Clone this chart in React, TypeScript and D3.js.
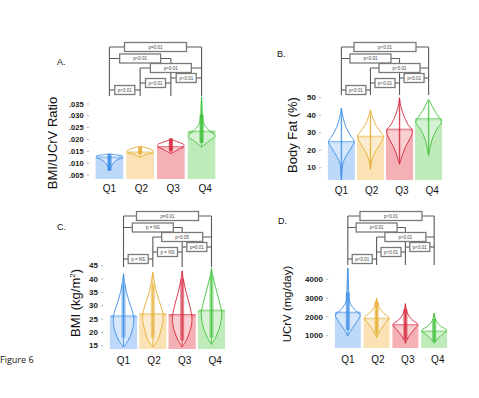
import React from 'react';
import * as d3 from 'd3';

const groups = ['Q1', 'Q2', 'Q3', 'Q4'];
const barColors = ['#bdd8f9', '#fae2b5', '#f5b0b5', '#bfeab9'];
const lineColors = ['#3a8ee6', '#e6ad2e', '#d6263a', '#3fc23a'];

// pairwise comparisons, top bracket first
const pairs: [number, number][] = [[0, 3], [0, 2], [1, 3], [2, 3], [1, 2], [0, 1]];
const pairLevels = [0, 1.15, 2.1, 3.1, 3.6, 4.3];

// A. BMI/UCrV ratio
const ratioMeans = [0.0126, 0.0147, 0.017, 0.0235];
const ratioTicks = [0.005, 0.01, 0.015, 0.02, 0.025, 0.03, 0.035];
const ratioViolins = [
  [[0.0068, 0], [0.009, 0.15], [0.011, 0.45], [0.0125, 0.9], [0.013, 0.95], [0.0135, 0.5], [0.0139, 0]],
  [[0.0124, 0], [0.0135, 0.35], [0.0145, 0.85], [0.0152, 0.95], [0.016, 0.7], [0.0167, 0.3], [0.0172, 0]],
  [[0.014, 0], [0.0155, 0.45], [0.017, 0.9], [0.0178, 0.95], [0.0188, 0.6], [0.0195, 0.25], [0.02, 0]],
  [[0.0168, 0], [0.019, 0.45], [0.0215, 0.98], [0.0235, 0.6], [0.026, 0.22], [0.029, 0.08], [0.033, 0.05], [0.038, 0]],
];
const ratioDots = [[0.0068, 0.0138], [0.0138, 0.0168], [0.015, 0.0205], [0.0185, 0.0305]];
const ratioP = ['p=0.01', 'p<0.01', 'p<0.01', 'p<0.01', 'p<0.01', 'p<0.01'];

// B. Body fat (%)
const fatMeans = [25, 28, 32, 38];
const fatTicks = [10, 20, 30, 40, 50];
const fatViolins = [
  [[3, 0], [7, 0.04], [12, 0.1], [16, 0.3], [21, 0.7], [25, 0.95], [28, 0.7], [33, 0.35], [38, 0.15], [44, 0]],
  [[9, 0], [14, 0.1], [19, 0.35], [24, 0.75], [28, 0.95], [31, 0.7], [35, 0.35], [39, 0.15], [43, 0]],
  [[12, 0], [17, 0.2], [22, 0.45], [27, 0.8], [31, 0.95], [35, 0.6], [40, 0.3], [45, 0.1], [50, 0]],
  [[17, 0], [22, 0.12], [27, 0.3], [32, 0.6], [36, 0.95], [39, 0.75], [43, 0.4], [47, 0.15], [49, 0]],
];
const fatDots = [[8, 40], [12, 40], [15, 45], [18, 45]];
const fatP = ['p<0.01', 'p<0.01', 'p<0.01', 'p<0.01', 'p<0.01', 'p<0.01'];

// C. BMI (kg/m2)
const bmiMeans = [26.2, 27, 26.7, 28.3];
const bmiTicks = [15, 20, 25, 30, 35, 40, 45];
const bmiViolins = [
  [[14.5, 0], [17, 0.35], [20, 0.6], [24, 0.75], [27, 0.7], [31, 0.45], [35, 0.22], [39, 0.08], [42, 0]],
  [[14.5, 0], [17, 0.35], [21, 0.6], [25, 0.75], [28, 0.7], [32, 0.45], [36, 0.22], [40, 0.08], [42.5, 0]],
  [[14.5, 0], [17, 0.3], [21, 0.6], [25, 0.72], [29, 0.6], [33, 0.4], [37, 0.2], [40, 0.08], [43, 0]],
  [[15.5, 0], [18, 0.3], [22, 0.6], [27, 0.75], [31, 0.6], [35, 0.4], [39, 0.2], [42, 0.06], [44, 0]],
];
const bmiDots = [[18, 38], [18, 38], [17, 40], [18, 41]];
const bmiP = ['p=0.01', 'p = NS', 'p<0.05', 'p=0.01', 'p = NS', 'p = NS'];

// D. UCrV (mg/day)
const ucrvMeans = [2250, 1925, 1590, 1250];
const ucrvTicks = [1000, 2000, 3000, 4000];
const ucrvViolins = [
  [[1000, 0], [1400, 0.35], [1800, 0.75], [2100, 0.95], [2400, 0.5], [2800, 0.15], [3400, 0.07], [4000, 0.04], [4600, 0]],
  [[900, 0], [1300, 0.3], [1700, 0.7], [1950, 0.95], [2200, 0.55], [2500, 0.2], [3000, 0]],
  [[600, 0], [1000, 0.3], [1350, 0.7], [1600, 0.95], [1850, 0.5], [2200, 0.15], [2700, 0]],
  [[600, 0], [900, 0.35], [1150, 0.8], [1300, 0.95], [1500, 0.5], [1800, 0.15], [2200, 0]],
];
const ucrvDots = [[1300, 3300], [1100, 2800], [800, 2400], [700, 1900]];
const ucrvP = ['p<0.01', 'p<0.01', 'p<0.01', 'p<0.01', 'p<0.01', 'p<0.01'];

const sans = 'Liberation Sans, Arial, sans-serif';

type PanelProps = {
  letter: string; letterX: number; letterY: number;
  title: React.ReactNode; titleX: number; titleY: number; titleSize: number;
  xRange: [number, number]; padIn: number; padOut: number;
  yDomain: [number, number]; yRange: [number, number]; base: number;
  ticks: number[]; fmt: (v: number) => string; tickSize: number;
  means: number[]; violins: number[][][]; dots: number[][]; dotW: number; dotOp: number;
  pLabels: string[]; bracketTop: number; bracketBase: number; qY: number;
};

const Panel: React.FC<PanelProps> = (p) => {
  const x = d3.scaleBand<string>().domain(groups).range(p.xRange)
    .paddingInner(p.padIn).paddingOuter(p.padOut);
  const y = d3.scaleLinear().domain(p.yDomain).range(p.yRange);
  const bw = x.bandwidth();
  const cx = (i: number) => (x(groups[i]) as number) + bw / 2;
  const left = x(groups[0]) as number;

  const levelY = (l: number) => p.bracketTop + l * 10;

  return (
    <g>
      <text x={p.letterX} y={p.letterY} fontSize={9} fontFamily={sans} fill="#111">{p.letter}</text>
      <text transform={`translate(${p.titleX},${p.titleY}) rotate(-90)`} textAnchor="middle"
        fontSize={p.titleSize} fontFamily={sans} fill="#111">{p.title}</text>

      {/* y ticks */}
      {p.ticks.map((t) => (
        <g key={t}>
          <line x1={left - 9} x2={left - 6.5} y1={y(t)} y2={y(t)} stroke="#aaa" strokeWidth={0.8} />
          <text x={left - 12} y={y(t) + 2.6} textAnchor="end" fontSize={p.tickSize}
            fontFamily={sans} fontWeight="bold" fill="#222">{p.fmt(t)}</text>
        </g>
      ))}

      {/* bars, violins, dots */}
      {groups.map((g, i) => {
        const v = p.violins[i];
        const area = d3.area<number[]>()
          .y((d) => y(d[0]))
          .x0((d) => cx(i) - d[1] * bw / 2)
          .x1((d) => cx(i) + d[1] * bw / 2)
          .curve(d3.curveCatmullRom);
        const yTop = y(p.means[i]);
        return (
          <g key={g}>
            <rect x={x(g)} y={yTop} width={bw} height={p.base - yTop} fill={barColors[i]} />
            <rect x={x(g)} y={yTop - 0.5} width={bw} height={2.5} fill={lineColors[i]} opacity={0.3} />
            <path d={area(v) || ''} fill="#fff" fillOpacity={0.4} stroke={lineColors[i]} strokeWidth={0.9} />
            <line x1={cx(i)} x2={cx(i)} y1={y(v[0][0])} y2={y(v[v.length - 1][0])}
              stroke={lineColors[i]} strokeWidth={0.8} />
            <rect x={cx(i) - p.dotW / 2} y={y(p.dots[i][1])} width={p.dotW}
              height={y(p.dots[i][0]) - y(p.dots[i][1])} fill={lineColors[i]} opacity={p.dotOp} />
            <line x1={cx(i) - bw * 0.45} x2={cx(i) + bw * 0.45} y1={yTop} y2={yTop}
              stroke={lineColors[i]} strokeWidth={0.7} opacity={0.7} />
            <text x={cx(i) + i * 1.2} y={p.qY} textAnchor="middle" fontSize={10}
              fontFamily={sans} fill="#111">{g}</text>
          </g>
        );
      })}

      {/* significance brackets */}
      {groups.map((g, i) => {
        const top = d3.min(pairs.map((pr, k) => (pr.includes(i) ? pairLevels[k] : Infinity))) as number;
        return <line key={g} x1={cx(i)} x2={cx(i)} y1={levelY(top)} y2={p.bracketBase}
          stroke="#5a5a5a" strokeWidth={1.1} />;
      })}
      {pairs.map(([a, b], k) => {
        const ly = levelY(pairLevels[k]);
        const mid = (cx(a) + cx(b)) / 2;
        const w = 21 * (b - a) - 1;
        return (
          <g key={k}>
            <line x1={cx(a)} x2={cx(b)} y1={ly} y2={ly} stroke="#5a5a5a" strokeWidth={1.1} />
            <rect x={mid - w / 2} y={ly - 4.5} width={w} height={9} fill="#fff" stroke="#7a7a7a" strokeWidth={1.3} />
            <text x={mid} y={ly + 1.6} textAnchor="middle" fontSize={4.5} fontFamily={sans} fill="#444">{p.pLabels[k]}</text>
          </g>
        );
      })}
    </g>
  );
};

const App: React.FC = () => (
  <svg width={479} height={398} style={{ position: 'absolute', left: 0, top: 0, background: '#fff' }}>
    <Panel letter="A." letterX={57} letterY={65} title="BMI/UCrV Ratio" titleX={57} titleY={143} titleSize={13}
      xRange={[95, 216]} padIn={0.1} padOut={0.02} yDomain={[0.005, 0.035]} yRange={[175, 104]} base={179}
      ticks={ratioTicks} fmt={(v) => d3.format('.3f')(v).slice(1)} tickSize={7.5}
      means={ratioMeans} violins={ratioViolins} dots={ratioDots} dotW={4} dotOp={0.85}
      pLabels={ratioP} bracketTop={47} bracketBase={96} qY={192} />
    <Panel letter="B." letterX={277} letterY={57} title="Body Fat (%)" titleX={297} titleY={135} titleSize={13}
      xRange={[327, 443]} padIn={0.07} padOut={0.03} yDomain={[10, 50]} yRange={[167.7, 97.7]} base={180}
      ticks={fatTicks} fmt={(v) => String(v)} tickSize={8}
      means={fatMeans} violins={fatViolins} dots={fatDots} dotW={2} dotOp={0.3}
      pLabels={fatP} bracketTop={47} bracketBase={95} qY={194} />
    <Panel letter="C." letterX={57} letterY={230} title={<>BMI (kg/m<tspan dy={-5} fontSize={8}>2</tspan><tspan dy={5}>)</tspan></>}
      titleX={80} titleY={303} titleSize={13}
      xRange={[109, 226]} padIn={0.07} padOut={0.03} yDomain={[15, 45]} yRange={[345.7, 265.7]} base={349}
      ticks={bmiTicks} fmt={(v) => String(v)} tickSize={8}
      means={bmiMeans} violins={bmiViolins} dots={bmiDots} dotW={4} dotOp={0.55}
      pLabels={bmiP} bracketTop={216} bracketBase={267} qY={364} />
    <Panel letter="D." letterX={278} letterY={224} title="UCrV (mg/day)" titleX={291} titleY={304} titleSize={11.5}
      xRange={[334, 448]} padIn={0.1} padOut={0.03} yDomain={[1000, 4000]} yRange={[335.7, 279.3]} base={348}
      ticks={ucrvTicks} fmt={(v) => String(v)} tickSize={8}
      means={ucrvMeans} violins={ucrvViolins} dots={ucrvDots} dotW={4} dotOp={0.7}
      pLabels={ucrvP} bracketTop={216} bracketBase={265} qY={363} />
    <text x={0} y={363} fontSize={9} fontFamily="Open Sans, sans-serif" fill="#111">Figure 6</text>
  </svg>
);

export default App;
